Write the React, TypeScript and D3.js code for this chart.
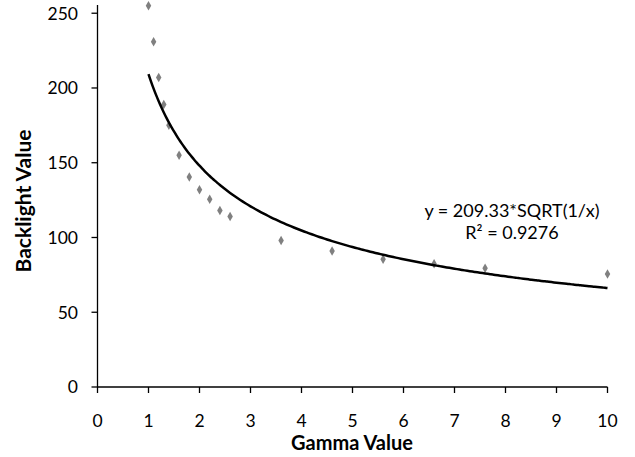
import React from 'react';
import * as d3 from 'd3';

// measured gamma / backlight pairs
const gamma = [1, 1.1, 1.2, 1.3, 1.4, 1.6, 1.8, 2, 2.2, 2.4, 2.6, 3.6, 4.6, 5.6, 6.6, 7.6, 10];
const backlight = [255, 231, 207, 189, 175, 155, 140.5, 132, 125.5, 118, 114, 98, 91, 85.5, 82.5, 79.5, 75.5];

// trendline from the chart label: y = 209.33 * sqrt(1/x)
const trendCoef = 209.33;
const trendRange = [1, 10];
const trendLabel = ['y = 209.33*SQRT(1/x)', 'R² = 0.9276'];

const xTicks = [0, 1, 2, 3, 4, 5, 6, 7, 8, 9, 10];
const yTicks = [0, 50, 100, 150, 200, 250];

const W = 635;
const H = 457;
const FONT = 'Lato, "Open Sans", sans-serif';

export default function App() {
  const x = d3.scaleLinear().domain([0, 10]).range([97.5, 607.5]);
  const y = d3.scaleLinear().domain([0, 255.5]).range([387, 5]);

  const trendPts = d3
    .range(trendRange[0], trendRange[1] + 0.001, 0.05)
    .map((g) => [g, trendCoef * Math.sqrt(1 / g)] as [number, number]);
  const line = d3
    .line<[number, number]>()
    .x((d) => x(d[0]))
    .y((d) => y(d[1]))
    .curve(d3.curveMonotoneX);

  const diamond = d3.symbol().type(d3.symbolDiamond).size(26)();

  return (
    <svg
      width={W}
      height={H}
      style={{ position: 'absolute', left: 0, top: 0, background: '#fff' }}
      fontFamily={FONT}
    >
      {/* axes */}
      <line x1={x(0)} x2={x(10)} y1={y(0)} y2={y(0)} stroke="#000" strokeWidth={1.3} />
      <line x1={x(0)} x2={x(0)} y1={y(0)} y2={y(255.5)} stroke="#000" strokeWidth={1.3} />
      {xTicks.map((t) => (
        <g key={'xt' + t}>
          <line x1={x(t)} x2={x(t)} y1={y(0)} y2={y(0) + 6} stroke="#000" strokeWidth={1.3} />
          <text x={x(t)} y={427} textAnchor="middle" fontSize={17.5} fill="#000">
            {t}
          </text>
        </g>
      ))}
      {yTicks.map((t) => (
        <g key={'yt' + t}>
          <line x1={x(0) - 6} x2={x(0)} y1={y(t)} y2={y(t)} stroke="#000" strokeWidth={1.3} />
          <text x={78} y={y(t)} dy="0.36em" textAnchor="end" fontSize={17.5} fill="#000">
            {t}
          </text>
        </g>
      ))}

      <text x={352} y={450} textAnchor="middle" fontSize={20} fontWeight="bold" fill="#000">
        Gamma Value
      </text>
      <text
        transform={`translate(31,201) rotate(-90)`}
        textAnchor="middle"
        fontSize={21}
        fontWeight="bold"
        fill="#000"
      >
        Backlight Value
      </text>

      {/* points */}
      {gamma.map((g, i) => (
        <path
          key={'p' + i}
          d={diamond || ''}
          transform={`translate(${x(g)},${y(backlight[i])})`}
          fill="#808080"
        />
      ))}

      {/* trendline */}
      <path d={line(trendPts) || ''} fill="none" stroke="#000" strokeWidth={2.5} />

      <text x={512} y={217} textAnchor="middle" fontSize={18} fill="#000">
        {trendLabel[0]}
      </text>
      <text x={512} y={239} textAnchor="middle" fontSize={18} fill="#000">
        {trendLabel[1]}
      </text>
    </svg>
  );
}
